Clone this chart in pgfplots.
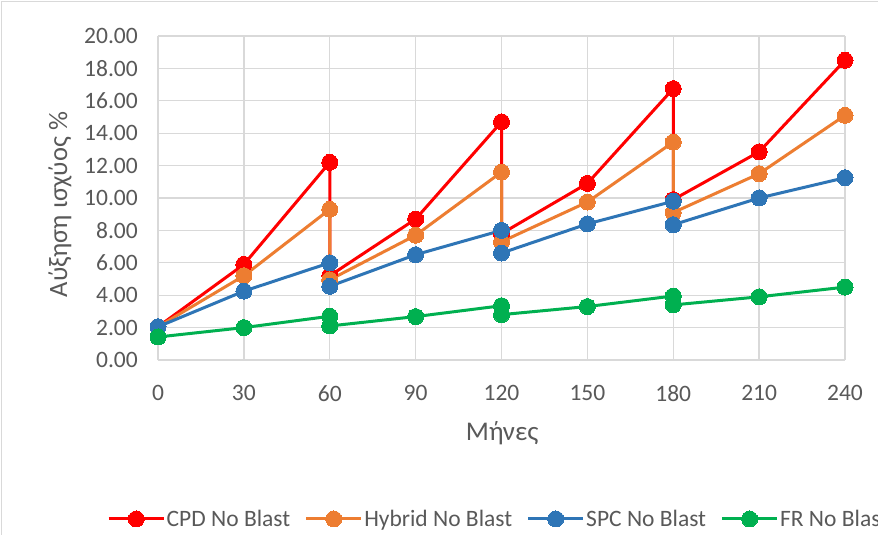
\documentclass[border=0pt]{standalone}
\usepackage{pgfplots}
\pgfplotsset{compat=1.18}
\usepackage{fontspec}
\setmainfont{Carlito}
\definecolor{cpd}{HTML}{FF0000}
\definecolor{hyb}{HTML}{ED7D31}
\definecolor{spc}{HTML}{2E75B6}
\definecolor{fr}{HTML}{00B050}
\definecolor{txt}{HTML}{595959}
\definecolor{grd}{HTML}{D9D9D9}
\begin{document}
\begin{tikzpicture}
\useasboundingbox (0,0) rectangle (878bp,535bp);
\clip (0,0) rectangle (878bp,535bp);
\fill[white] (0,0) rectangle (878bp,535bp);
\draw[grd, line width=1bp] (1.5bp,0) -- (1.5bp,533.5bp) -- (878bp,533.5bp);
\begin{axis}[
  at={(158bp,175bp)}, anchor=south west,
  scale only axis, width=687bp, height=324bp,
  xmin=0, xmax=240, ymin=0, ymax=20,
  xtick={0,30,...,240}, ytick={0,2,...,20},
  grid=major,
  major grid style={grd, line width=1.3bp},
  axis line style={draw=none},
  tick style={draw=none},
  font=\fontsize{23.5bp}{28bp}\selectfont,
  /pgf/number format/assume math mode=true,
  yticklabel style={/pgf/number format/.cd, fixed, fixed zerofill, precision=2, /tikz/.cd, text=txt, inner sep=0pt, anchor=east, xshift=-20bp},
  xticklabel style={text=txt, inner sep=0pt, anchor=north, yshift=-25bp},
  scaled y ticks=false,
  xlabel={Μήνες},
  ylabel={Αύξηση ισχύος \%},
  xlabel style={at={(axis description cs:0.501,-0.226)}, anchor=center, text=txt, font=\fontsize{27bp}{32bp}\selectfont},
  ylabel style={at={(axis description cs:-0.1425,0.48)}, anchor=center, rotate=0, text=txt, font=\fontsize{26.5bp}{32bp}\selectfont},
  legend columns=4,
  legend style={at={(axis description cs:-0.0742,-0.4907)}, anchor=west, draw=none, fill=none, inner sep=0pt,
    nodes={text=txt, inner xsep=1.5bp, inner ysep=2bp},
    /tikz/every even column/.append style={column sep=13bp}},
  legend image code/.code={\draw[mark repeat=2,mark phase=2] plot coordinates {(0bp,0bp) (27.5bp,0bp) (55bp,0bp)};},
  every axis plot/.append style={line width=3bp, mark=*, mark size=8bp},
  clip=false,
]
\addplot[cpd, mark options={fill=cpd, draw=cpd, line width=0pt}] coordinates {
(0,2.05) (30,5.9) (60,12.2) (60,5.2) (90,8.7) (120,14.7) (120,7.8) (150,10.9) (180,16.75) (180,9.9) (210,12.85) (240,18.5)};
\addlegendentry{CPD No Blast}
\addplot[hyb, mark options={fill=hyb, draw=hyb, line width=0pt}] coordinates {
(0,2.05) (30,5.2) (60,9.3) (60,4.95) (90,7.7) (120,11.6) (120,7.3) (150,9.75) (180,13.45) (180,9.1) (210,11.5) (240,15.1)};
\addlegendentry{Hybrid No Blast}
\addplot[spc, mark options={fill=spc, draw=spc, line width=0pt}] coordinates {
(0,2.05) (30,4.25) (60,6.0) (60,4.55) (90,6.5) (120,8.0) (120,6.6) (150,8.4) (180,9.8) (180,8.35) (210,10.0) (240,11.25)};
\addlegendentry{SPC No Blast}
\addplot[fr, mark options={fill=fr, draw=fr, line width=0pt}] coordinates {
(0,1.42) (30,2.0) (60,2.7) (60,2.1) (90,2.68) (120,3.35) (120,2.8) (150,3.3) (180,3.95) (180,3.4) (210,3.9) (240,4.5)};
\addlegendentry{FR No Blast}
\end{axis}
\end{tikzpicture}
\end{document}
